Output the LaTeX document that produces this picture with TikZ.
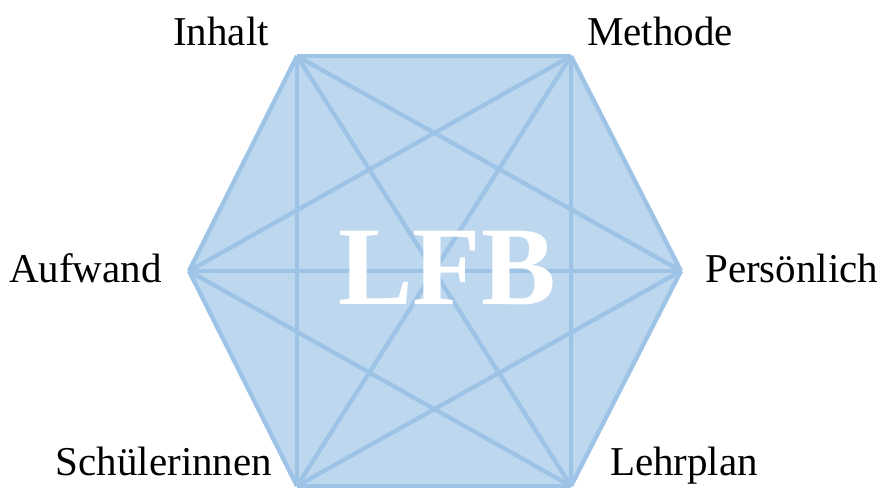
\documentclass[tikz,border=0pt]{standalone}
\usepackage{fontspec}
\setmainfont{Liberation Serif}
\definecolor{hexfill}{HTML}{BDD7EE}
\definecolor{hexline}{HTML}{9DC3E6}
\begin{document}
\begin{tikzpicture}[x=1pt,y=-1pt,
  lbl/.style={font=\fontsize{41}{41}\selectfont, inner sep=0pt},
  edge/.style={draw=hexline, line width=4.3pt, line join=miter}]
\useasboundingbox (0,0) rectangle (880,488);
\coordinate (I) at (297,56);
\coordinate (M) at (571,56);
\coordinate (P) at (681,271);
\coordinate (L) at (571,486);
\coordinate (S) at (297,486);
\coordinate (A) at (189,271);
\fill[hexfill] (I) -- (M) -- (P) -- (L) -- (S) -- (A) -- cycle;
\foreach \u/\v in {I/M,M/P,P/L,L/S,S/A,A/I,I/P,I/L,I/S,M/L,M/S,M/A,P/S,P/A,L/A}
  \draw[edge] (\u) -- (\v);
\node[font=\bfseries\fontsize{112}{112}\selectfont, text=white, inner sep=0pt] (lfb) at (447,268) {LFB};
\node[lbl, anchor=base] (inhalt) at (221,45) {Inhalt};
\node[lbl, anchor=base] (methode) at (660,45) {Methode};
\node[lbl, anchor=base east] (aufwand) at (162,282) {Aufwand};
\node[lbl, anchor=base west] (pers) at (705,282) {Persönlich};
\node[lbl, anchor=base] (schuel) at (164,475) {Schülerinnen};
\node[lbl, anchor=base] (lehr) at (684,475) {Lehrplan};
\end{tikzpicture}
\end{document}
